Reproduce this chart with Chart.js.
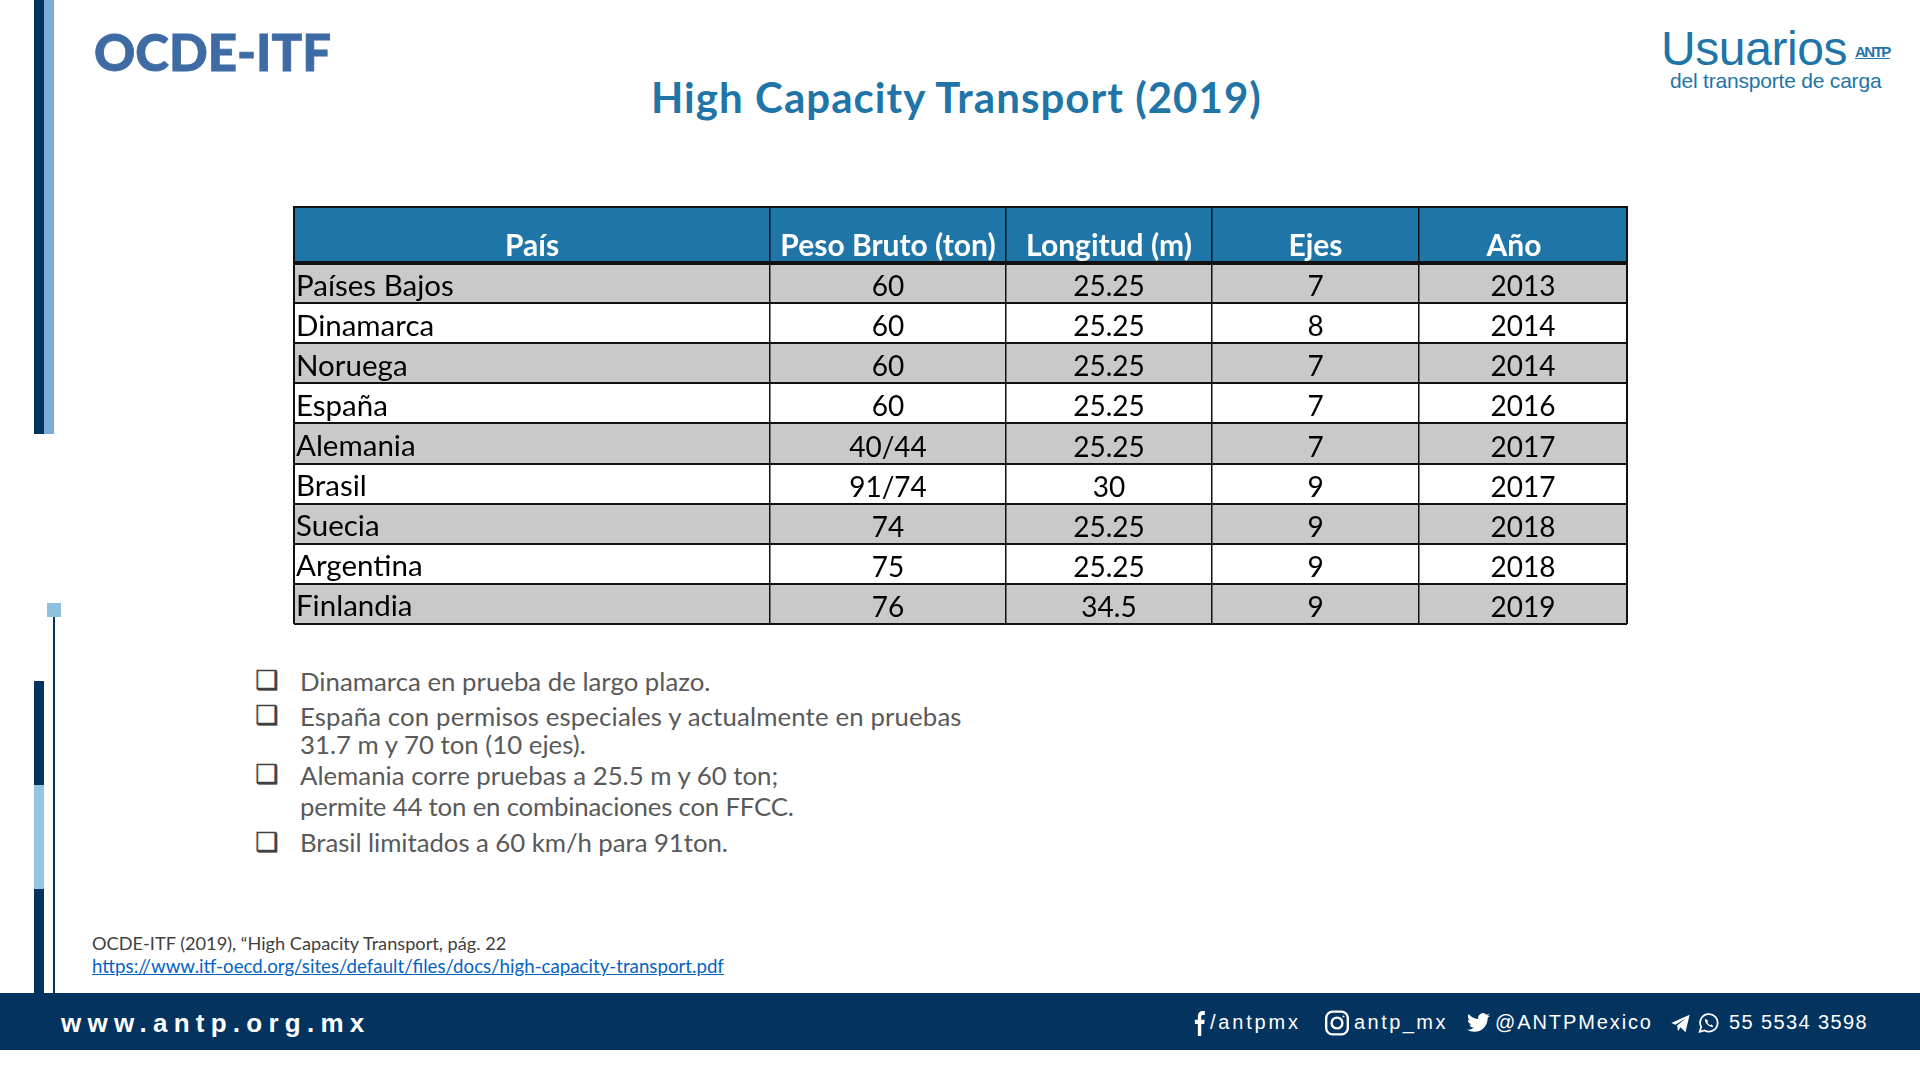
<!DOCTYPE html>
<html lang="es">
<head>
<meta charset="utf-8">
<title>High Capacity Transport (2019)</title>
<script src="https://cdn.jsdelivr.net/npm/chart.js@4"></script>
<style>
  html, body { margin: 0; background: #fff; }
  #slide { position: relative; width: 1920px; height: 1080px; overflow: hidden; background: #fff; font-family: Lato, sans-serif; }
  #slide div, #slide a, #slide svg { position: absolute; white-space: nowrap; }
  .block { background: #03335f; }
  .note { left: 300px; font-size: 25.8px; line-height: 30px; color: #595959; }
  .box { left: 255px; font: 26px/30px "DejaVu Sans"; color: #404040; -webkit-text-stroke: .5px #404040; }
  .social { top: 1008px; font: 20px/28px "Liberation Sans"; letter-spacing: 2.1px; color: #fff; }
</style>
</head>
<body>
<div id="slide">
  <div class="block" style="left:34px;top:0;width:10px;height:434px"></div>
  <div style="left:44px;top:0;width:10px;height:434px;background:#7dabd8"></div>
  <div style="left:47px;top:603px;width:14px;height:14px;background:#8fc0e0"></div>
  <div class="block" style="left:53px;top:617px;width:2px;height:376px"></div>
  <div class="block" style="left:34px;top:681px;width:10px;height:104px"></div>
  <div style="left:34px;top:785px;width:10px;height:104px;background:#94c4e2"></div>
  <div class="block" style="left:34px;top:889px;width:10px;height:104px"></div>

  <div style="left:94px;top:22px;font:900 51px/60px Lato;color:#3f6ba5;-webkit-text-stroke:.8px #3f6ba5">OCDE-ITF</div>
  <div style="left:651px;top:72px;font:700 42px/50px Lato;letter-spacing:1.05px;color:#1f74a8">High Capacity Transport (2019)</div>

  <div style="left:1661px;top:21px;font:48px/56px 'Liberation Sans';color:#1f74a8;letter-spacing:-.4px">Usuarios</div>
  <div style="left:1855px;top:44px;font:700 15px/16px 'Liberation Sans';color:#1f74a8;text-decoration:underline;letter-spacing:-1.5px">ANTP</div>
  <div style="left:1670px;top:68px;font:21px/26px 'Liberation Sans';color:#1f74a8;letter-spacing:-.2px">del transporte de carga</div>

  <canvas id="tableChart" width="1353" height="437" style="position:absolute;left:284px;top:197px"></canvas>

  <div class="box" style="top:665px">❑</div>
  <div class="note" style="top:666px">Dinamarca en prueba de largo plazo.</div>
  <div class="box" style="top:700px">❑</div>
  <div class="note" style="top:701px;letter-spacing:.13px">España con permisos especiales y actualmente en pruebas</div>
  <div class="note" style="top:729px">31.7 m y 70 ton (10 ejes).</div>
  <div class="box" style="top:759px">❑</div>
  <div class="note" style="top:760px">Alemania corre pruebas a 25.5 m y 60 ton;</div>
  <div class="note" style="top:791px;letter-spacing:-.2px">permite 44 ton en combinaciones con FFCC.</div>
  <div class="box" style="top:827px">❑</div>
  <div class="note" style="top:827px;letter-spacing:-.06px">Brasil limitados a 60 km/h para 91ton.</div>

  <div style="left:92px;top:931px;font:18.2px/24px Lato;color:#404040">OCDE-ITF (2019), “High Capacity Transport, pág. 22</div>
  <a href="#" style="left:92px;top:954px;font:18.7px/24px Lato;color:#0563c1">https://www.itf-oecd.org/sites/default/files/docs/high-capacity-transport.pdf</a>

  <div class="block" style="left:0;top:993px;width:1920px;height:57px"></div>
  <div style="left:61px;top:1006px;font:700 26px/34px 'Liberation Sans';letter-spacing:6.25px;color:#fff">www.antp.org.mx</div>

  <svg style="left:1190px;top:1010px" width="18" height="26" viewBox="0 0 24 24" preserveAspectRatio="none" fill="#fff"><path d="M15 24V13h4l.6-4H15V6.500c0-1.200.4-2 2-2h2.800V1c-.5 0-2-.1-3.600-.1-3.400 0-5.700 2-5.700 5.400V9H6.500v4h4v11z"/></svg>
  <div class="social" style="left:1210px;letter-spacing:2.8px">/antpmx</div>
  <svg style="left:1324px;top:1010px" width="26" height="26" viewBox="0 0 24 24" fill="none" stroke="#fff" stroke-width="2.200"><rect x="2" y="1.500" width="20" height="21" rx="6"/><circle cx="12" cy="12" r="5"/><circle cx="18" cy="6" r="1" fill="#fff" stroke="none"/></svg>
  <div class="social" style="left:1354px;letter-spacing:2.45px">antp_mx</div>
  <svg style="left:1467px;top:1011px" width="23" height="23" viewBox="0 0 24 24" fill="#fff"><path d="M23.953 4.57a10 10 0 01-2.825.775 4.958 4.958 0 002.163-2.723c-.951.555-2.005.959-3.127 1.184a4.92 4.92 0 00-8.384 4.482C7.69 8.095 4.067 6.13 1.64 3.162a4.822 4.822 0 00-.666 2.475c0 1.71.87 3.213 2.188 4.096a4.904 4.904 0 01-2.228-.616v.06a4.923 4.923 0 003.946 4.827 4.996 4.996 0 01-2.212.085 4.936 4.936 0 004.604 3.417 9.867 9.867 0 01-6.102 2.105c-.39 0-.779-.023-1.17-.067a13.995 13.995 0 007.557 2.209c9.053 0 13.998-7.496 13.998-13.985 0-.21 0-.42-.015-.63A9.935 9.935 0 0024 4.59z"/></svg>
  <div class="social" style="left:1495px;letter-spacing:1.9px">@ANTPMexico</div>
  <svg style="left:1670px;top:1013px" width="21" height="20" viewBox="0 0 24 24" fill="#fff"><path d="M1 12 L23 2 L18 23 L12 17 L9 22 L8 15 L19 6 L6 14 Z"/></svg>
  <svg style="left:1698px;top:1012px" width="21" height="22" viewBox="0 0 24 24" fill="none" stroke="#fff" stroke-width="2"><path d="M2 22l1.600-5.500A10 10 0 1 1 7.500 20.500z"/><path d="M8.500 7c-1.500 2 .5 5 2.500 7s5 3.500 6.500 2l-2-2.500-1.500 1c-1.500-.7-2.500-2-3.300-3.500l1-1.300z" fill="#fff" stroke="none"/></svg>
  <div class="social" style="left:1729px;letter-spacing:1.400px">55 5534 3598</div>
</div>

<script>
const headers = ["País", "Peso Bruto (ton)", "Longitud (m)", "Ejes", "Año"];
const countries = ["Países Bajos", "Dinamarca", "Noruega", "España", "Alemania", "Brasil", "Suecia", "Argentina", "Finlandia"];
const grossWeight = ["60", "60", "60", "60", "40/44", "91/74", "74", "75", "76"];
const lengths = ["25.25", "25.25", "25.25", "25.25", "25.25", "30", "25.25", "25.25", "34.5"];
const axles = ["7", "8", "7", "7", "7", "9", "9", "9", "9"];
const years = ["2013", "2014", "2014", "2016", "2017", "2017", "2018", "2018", "2019"];

// column widths live apart from the data, the x scale runs in these units
const colWidths = [476, 236, 206, 207, 208];
const tableFont = "Lato";
const valueCols = [null, grossWeight, lengths, axles, years];

const total = colWidths.reduce((a, b) => a + b, 0);
const edges = [0];
colWidths.forEach((w, i) => edges.push(edges[i] + w));
const centers = colWidths.map((w, i) => edges[i] + w / 2);

const rowColor = (ctx) => ctx.dataIndex % 2 === 0 ? "#c9c9c9" : "#ffffff";

// text of the value columns, placed through the chart's own scales
const cellText = {
  id: "cellText",
  afterDraw(chart) {
    const { ctx, scales: { x, y } } = chart;
    ctx.save();
    ctx.font = "28px " + tableFont;
    ctx.fillStyle = "#000";
    ctx.textAlign = "center";
    ctx.textBaseline = "middle";
    valueCols.forEach((col, c) => {
      if (!col) return;
      col.forEach((txt, r) => ctx.fillText(txt, x.getPixelForValue(centers[c]), y.getPixelForValue(r) + 4));
    });
    ctx.strokeStyle = "#111";
    ctx.lineWidth = 2;
    ctx.beginPath();
    ctx.moveTo(x.left - 1, x.top);
    ctx.lineTo(x.right + 1, x.top);
    ctx.stroke();
    ctx.restore();
  }
};

const noPadding = (scale) => {
  scale.paddingLeft = scale.paddingRight = scale.paddingTop = scale.paddingBottom = 0;
};

new Chart(document.getElementById("tableChart"), {
  type: "bar",
  data: {
    labels: countries,
    datasets: colWidths.map((w, i) => ({
      label: headers[i],
      data: countries.map(() => w),
      backgroundColor: rowColor,
      barPercentage: 1,
      categoryPercentage: 1
    }))
  },
  options: {
    indexAxis: "y",
    responsive: false,
    animation: false,
    devicePixelRatio: 1,
    layout: { padding: { left: 10, right: 10, top: 10, bottom: 10 } },
    plugins: { legend: { display: false }, tooltip: { enabled: false }, title: { display: false } },
    scales: {
      x: {
        type: "linear",
        position: "top",
        stacked: true,
        min: 0,
        max: total,
        backgroundColor: "#1f74a8",
        border: { display: false },
        afterBuildTicks(scale) {
          // edges carry the column lines, centres carry the header labels (Año sits a bit left in the source)
          const heads = centers.map((v, i) => ({ value: i === 4 ? v - 9 : v, head: i }));
          scale.ticks = edges.map((v) => ({ value: v })).concat(heads).sort((a, b) => a.value - b.value);
        },
        afterFit(scale) { scale.height = 56; noPadding(scale); },
        grid: {
          z: 1,
          tickLength: 56,
          lineWidth: (ctx) => ctx.tick && ctx.tick.head === undefined ? (ctx.tick.value === 0 || ctx.tick.value === total ? 2 : 1.5) : 0,
          color: "#111",
          tickColor: "#111",
          tickWidth: (ctx) => ctx.tick && ctx.tick.head === undefined ? (ctx.tick.value === 0 || ctx.tick.value === total ? 2 : 1.5) : 0
        },
        ticks: {
          z: 2,
          autoSkip: false,
          maxRotation: 0,
          padding: -57.5,
          color: "#fff",
          font: { family: tableFont, size: 30, weight: "bold" },
          callback(value, i, ticks) {
            const t = ticks[i];
            return t.head === undefined ? "" : headers[t.head];
          }
        }
      },
      y: {
        stacked: true,
        border: { display: false },
        afterFit(scale) { scale.width = 0; noPadding(scale); },
        grid: {
          z: 1,
          drawTicks: false,
          color: "#111",
          lineWidth: (ctx) => ctx.index === 0 ? 4 : 2
        },
        ticks: {
          z: 2,
          mirror: true,
          padding: 2,
          labelOffset: 3,
          color: "#000",
          font: { family: tableFont, size: 29.5 }
        }
      }
    }
  },
  plugins: [cellText]
});
</script>
</body>
</html>
